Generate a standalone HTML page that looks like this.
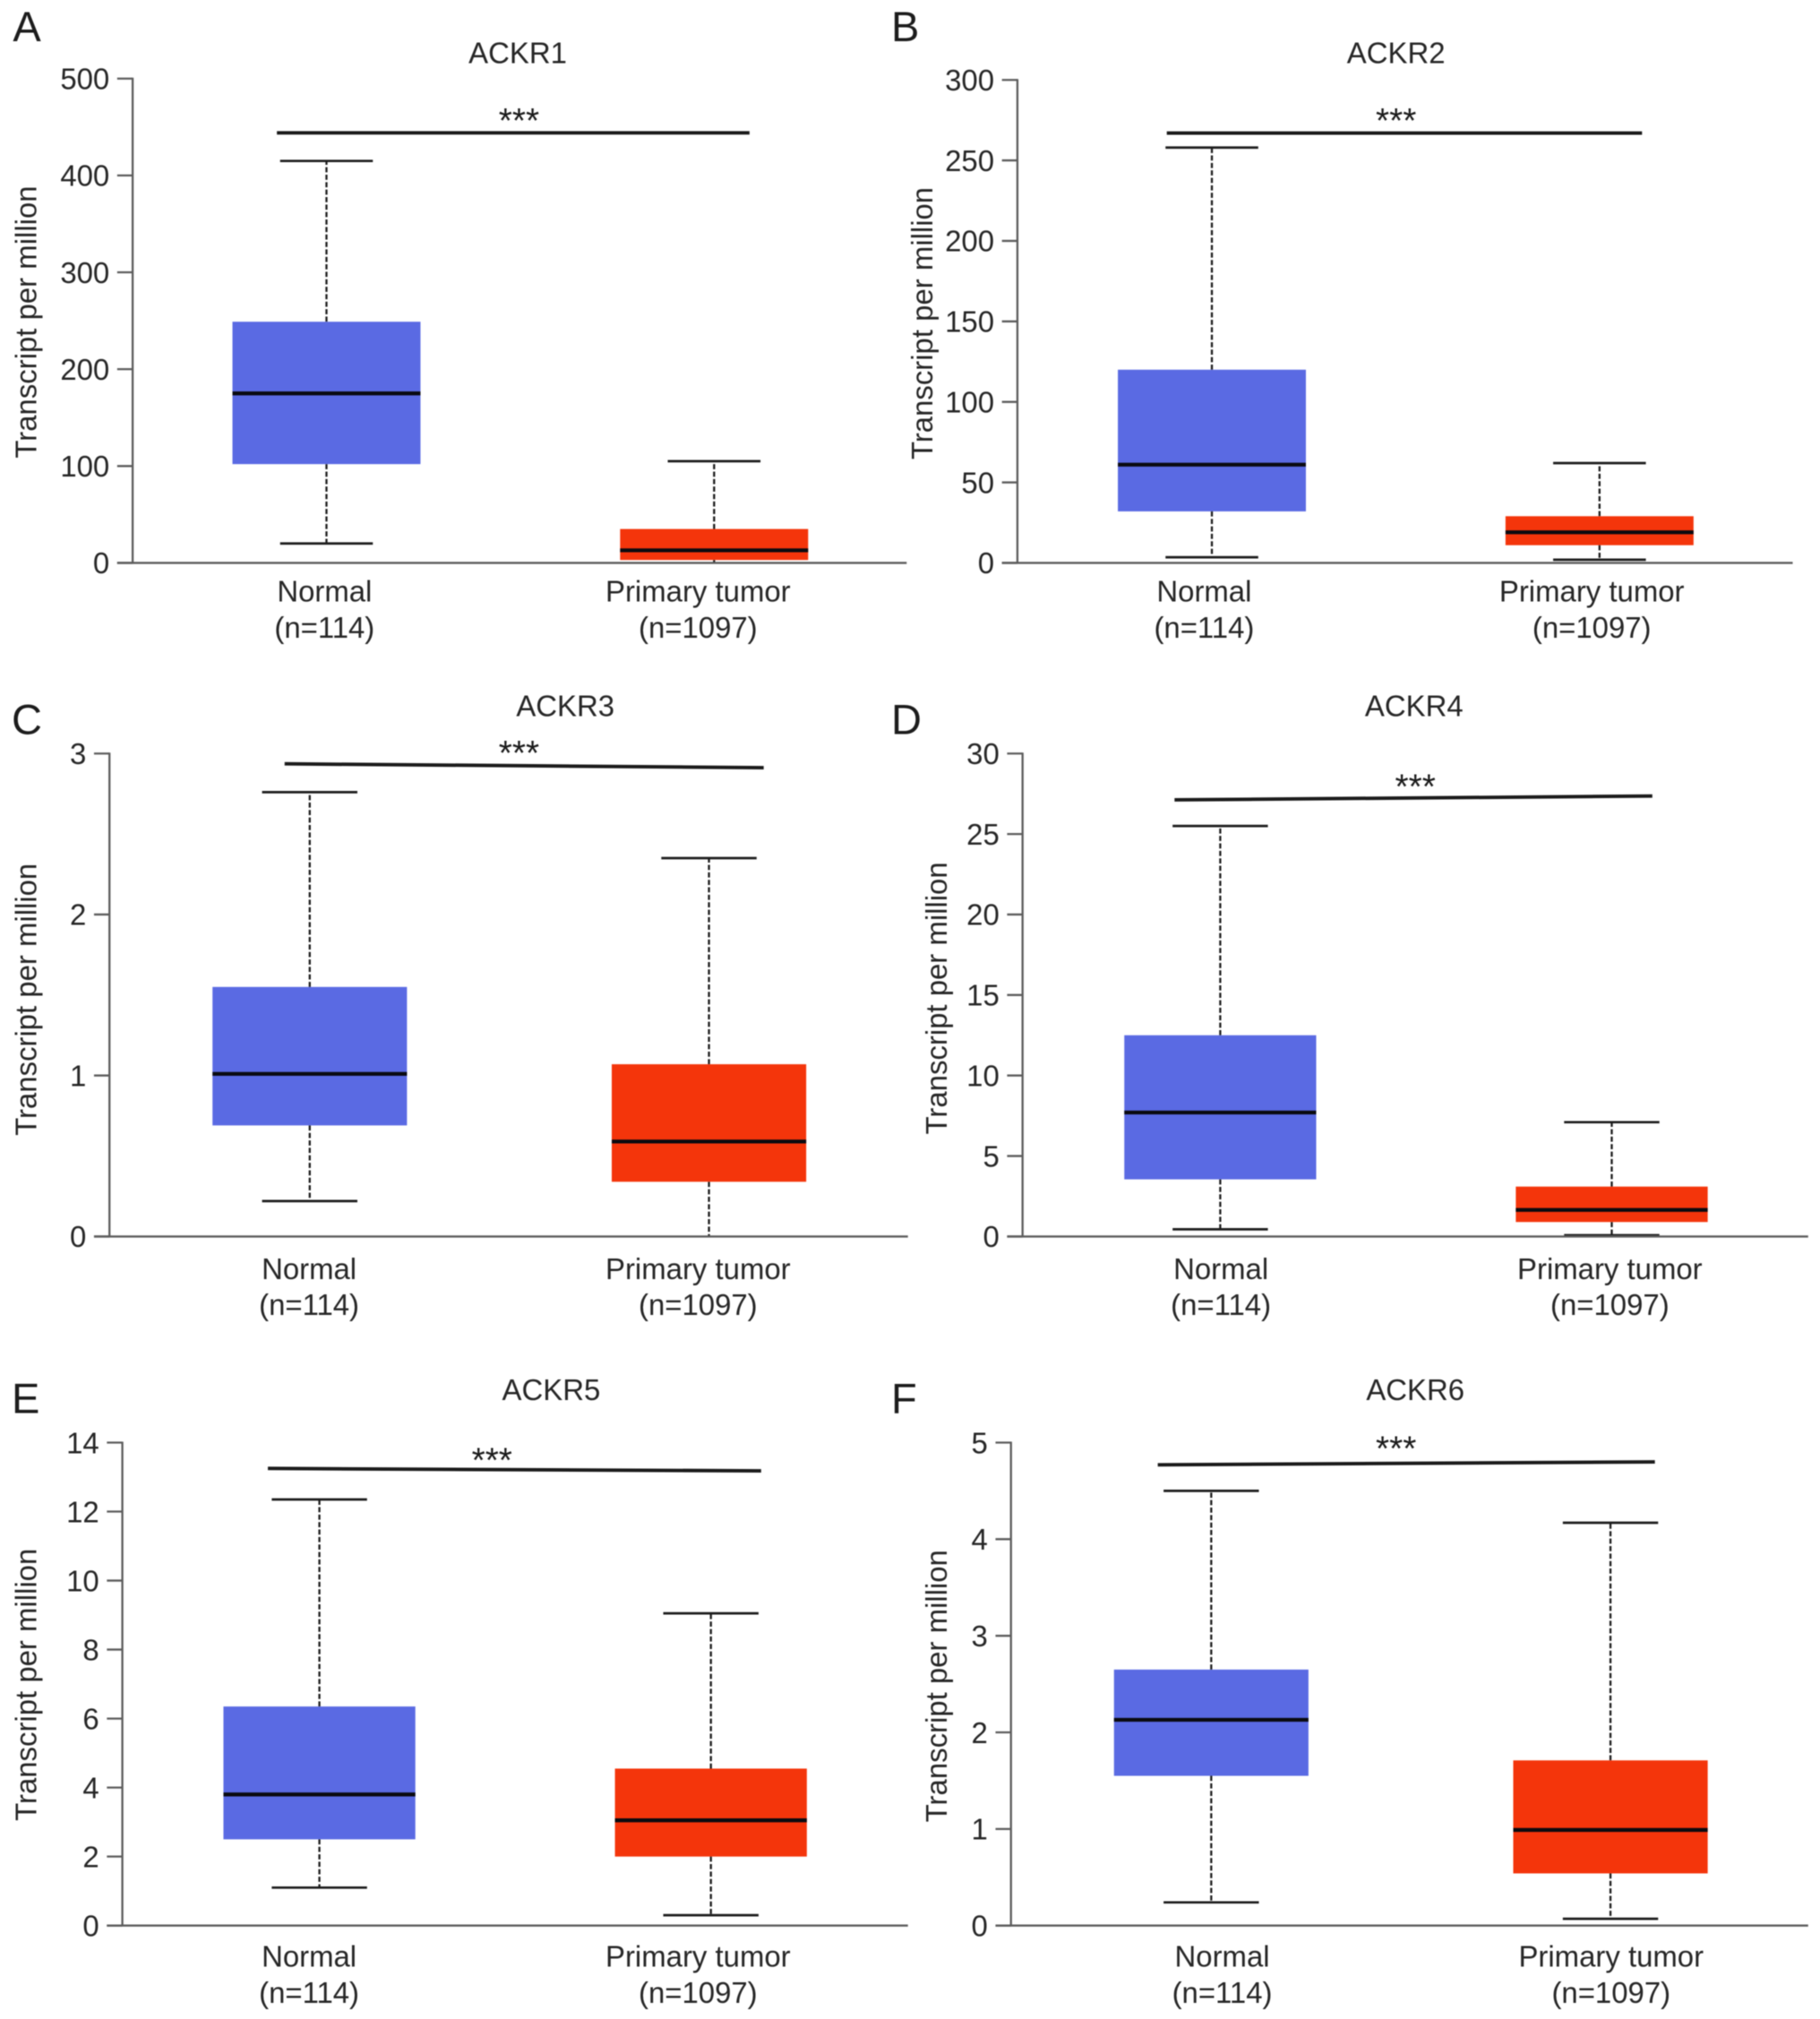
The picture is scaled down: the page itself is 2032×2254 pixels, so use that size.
<!DOCTYPE html>
<html lang="en">
<head>
<meta charset="utf-8">
<title>ACKR1-6 transcript expression box plots</title>
<style>
html,body{margin:0;padding:0;background:#fff;overflow:hidden;}
svg{display:block;filter:blur(0.6px);}
text{font-family:"Liberation Sans",Arial,sans-serif;fill:#262626;font-size:22.9px;}
.ctr{text-anchor:middle;}
.letter{font-size:32.7px;fill:#1c1c1c;}
</style>
</head>
<body>
<svg id="figure" xmlns="http://www.w3.org/2000/svg" width="2032" height="2254" viewBox="0 0 1413.2 1567.5">
<rect width="1414" height="1569" fill="#fff"/>

<g>
<text class="letter" x="10" y="32">A</text>
<text class="ctr" x="402" y="49">ACKR1</text>
<text class="ctr" transform="translate(28 250) rotate(-90)">Transcript per million</text>
<text class="ctr" x="252" y="467">Normal</text>
<text class="ctr" x="252" y="495">(n=114)</text>
<text class="ctr" x="542" y="467">Primary tumor</text>
<text class="ctr" x="542" y="495">(n=1097)</text>
</g>

<g>
<text class="letter" x="692" y="32">B</text>
<text class="ctr" x="1084" y="49">ACKR2</text>
<text class="ctr" transform="translate(724 251) rotate(-90)">Transcript per million</text>
<text class="ctr" x="935" y="467">Normal</text>
<text class="ctr" x="935" y="495">(n=114)</text>
<text class="ctr" x="1236" y="467">Primary tumor</text>
<text class="ctr" x="1236" y="495">(n=1097)</text>
</g>

<g>
<text class="letter" x="9" y="570">C</text>
<text class="ctr" x="439" y="556">ACKR3</text>
<text class="ctr" transform="translate(28 776) rotate(-90)">Transcript per million</text>
<text class="ctr" x="240" y="993">Normal</text>
<text class="ctr" x="240" y="1021">(n=114)</text>
<text class="ctr" x="542" y="993">Primary tumor</text>
<text class="ctr" x="542" y="1021">(n=1097)</text>
</g>

<g>
<text class="letter" x="692" y="570">D</text>
<text class="ctr" x="1098" y="556">ACKR4</text>
<text class="ctr" transform="translate(735 775) rotate(-90)">Transcript per million</text>
<text class="ctr" x="948" y="993">Normal</text>
<text class="ctr" x="948" y="1021">(n=114)</text>
<text class="ctr" x="1250" y="993">Primary tumor</text>
<text class="ctr" x="1250" y="1021">(n=1097)</text>
</g>

<g>
<text class="letter" x="9" y="1097">E</text>
<text class="ctr" x="428" y="1087">ACKR5</text>
<text class="ctr" transform="translate(28 1308) rotate(-90)">Transcript per million</text>
<text class="ctr" x="240" y="1527">Normal</text>
<text class="ctr" x="240" y="1555">(n=114)</text>
<text class="ctr" x="542" y="1527">Primary tumor</text>
<text class="ctr" x="542" y="1555">(n=1097)</text>
</g>

<g>
<text class="letter" x="692" y="1097">F</text>
<text class="ctr" x="1099" y="1087">ACKR6</text>
<text class="ctr" transform="translate(735 1309) rotate(-90)">Transcript per million</text>
<text class="ctr" x="949" y="1527">Normal</text>
<text class="ctr" x="949" y="1555">(n=114)</text>
<text class="ctr" x="1251" y="1527">Primary tumor</text>
<text class="ctr" x="1251" y="1555">(n=1097)</text>
</g>

<g id="marks"></g>
</svg>

<script>
/* Box statistics: [whisker low, Q1, median, Q3, whisker high] */
const ackr1Normal = [20, 102, 175, 249, 415];
const ackr1Tumor  = [0, 3, 13, 35, 105];
const ackr2Normal = [3.5, 32, 61, 120, 258];
const ackr2Tumor  = [2, 11, 19, 29, 62];
const ackr3Normal = [0.22, 0.69, 1.01, 1.55, 2.76];
const ackr3Tumor  = [0, 0.34, 0.59, 1.07, 2.35];
const ackr4Normal = [0.45, 3.55, 7.7, 12.5, 25.5];
const ackr4Tumor  = [0.08, 0.9, 1.65, 3.1, 7.1];
const ackr5Normal = [1.1, 2.5, 3.8, 6.35, 12.35];
const ackr5Tumor  = [0.3, 2.0, 3.05, 4.55, 9.05];
const ackr6Normal = [0.24, 1.55, 2.13, 2.65, 4.5];
const ackr6Tumor  = [0.07, 0.54, 0.99, 1.71, 4.17];

/* Y tick labels */
const ackr1Ticks = [0, 100, 200, 300, 400, 500];
const ackr2Ticks = [0, 50, 100, 150, 200, 250, 300];
const ackr3Ticks = [0, 1, 2, 3];
const ackr4Ticks = [0, 5, 10, 15, 20, 25, 30];
const ackr5Ticks = [0, 2, 4, 6, 8, 10, 12, 14];
const ackr6Ticks = [0, 1, 2, 3, 4, 5];

/* Significance bar heights in data units: [left end, right end] */
const ackr1Sig = [444, 444];
const ackr2Sig = [267, 267];
const ackr3Sig = [2.936, 2.912];
const ackr4Sig = [27.12, 27.36];
const ackr5Sig = [13.25, 13.18];
const ackr6Sig = [4.77, 4.80];

const NS = 'http://www.w3.org/2000/svg';
const marks = document.getElementById('marks');

function make(parent, tag, attrs) {
  const el = document.createElementNS(NS, tag);
  for (const k in attrs) el.setAttribute(k, attrs[k]);
  parent.appendChild(el);
  return el;
}

function drawBox(g, stats, cx, halfBox, halfCap, y, fill, key) {
  const low = stats[0], q1 = stats[1], med = stats[2], q3 = stats[3], high = stats[4];

  const whiskerUp = make(g, 'line', {x1: cx, x2: cx, y1: y(q3), y2: y(high), stroke: '#1c1c1c', 'stroke-width': 1.6, 'stroke-dasharray': '4 1.8'});
  
  

  const whiskerDown = make(g, 'line', {x1: cx, x2: cx, y1: y(q1), y2: y(low), stroke: '#1c1c1c', 'stroke-width': 1.6, 'stroke-dasharray': '4 1.8'});
  
  

  const capHigh = make(g, 'line', {x1: cx - halfCap, x2: cx + halfCap, y1: y(high), y2: y(high), stroke: '#1c1c1c', 'stroke-width': 1.9});
  
  

  /* A lower whisker sitting on the baseline is hidden by the axis in the source figure */
  if (low > 0) {
    const capLow = make(g, 'line', {x1: cx - halfCap, x2: cx + halfCap, y1: y(low), y2: y(low), stroke: '#1c1c1c', 'stroke-width': 1.9});
    
    
  }

  const box = make(g, 'rect', {x: cx - halfBox, width: halfBox * 2, y: y(q3), height: y(q1) - y(q3), fill: fill});
  
  

  const median = make(g, 'line', {x1: cx - halfBox, x2: cx + halfBox, y1: y(med), y2: y(med), stroke: '#0a0a10', 'stroke-width': 3});
  
  
}

function drawPanel(p) {
  const g = make(marks, 'g', {});
  
  

  const y = v => p.y0 + (p.yTop - p.y0) * v / p.ticks[p.ticks.length - 1];
  const xCat = i => p.cx0 + p.step * i;

  drawBox(g, p.normal, xCat(0), p.halfBox, p.halfCap, y, '#5a6ae3', p.key + '-normal');
  drawBox(g, p.tumor, xCat(1), p.halfBox, p.halfCap, y, '#f4350b', p.key + '-tumor');

  const yAxis = make(g, 'line', {x1: p.axisX, x2: p.axisX, y1: y(p.ticks[p.ticks.length - 1]) - 0.7, y2: p.y0, stroke: '#5c5c5c', 'stroke-width': 1.6});
  
  

  const xAxis = make(g, 'line', {x1: p.axisX - 12, x2: p.axisRight, y1: p.y0, y2: p.y0, stroke: '#5c5c5c', 'stroke-width': 1.6});
  
  

  p.ticks.forEach(t => {
    const tick = make(g, 'line', {x1: p.axisX - 12, x2: p.axisX, y1: y(t), y2: y(t), stroke: '#5c5c5c', 'stroke-width': 1.6});
    
    

    const label = make(g, 'text', {x: p.axisX - 18, y: y(t) + 8.2, 'text-anchor': 'end'});
    
    
    label.textContent = String(t);
  });

  const sig = make(g, 'line', {x1: p.sigX1, x2: p.sigX2, y1: y(p.sig[0]), y2: y(p.sig[1]), stroke: '#1a1a1a', 'stroke-width': 2.7});
  
  

  const stars = make(g, 'text', {x: p.starX, y: p.starY + 13, 'text-anchor': 'middle', style: 'font-size:27px;fill:#1a1a1a'});
  
  
  stars.textContent = '***';
}

drawPanel({key: 'ackr1', normal: ackr1Normal, tumor: ackr1Tumor, ticks: ackr1Ticks, sig: ackr1Sig,
  axisX: 103, axisRight: 704, y0: 437, yTop: 61, cx0: 253.5, step: 301, halfBox: 73, halfCap: 36,
  sigX1: 215, sigX2: 582, starX: 403, starY: 90});
drawPanel({key: 'ackr2', normal: ackr2Normal, tumor: ackr2Tumor, ticks: ackr2Ticks, sig: ackr2Sig,
  axisX: 790, axisRight: 1392, y0: 437, yTop: 62, cx0: 941, step: 301, halfBox: 73, halfCap: 36,
  sigX1: 906, sigX2: 1275, starX: 1084, starY: 90});
drawPanel({key: 'ackr3', normal: ackr3Normal, tumor: ackr3Tumor, ticks: ackr3Ticks, sig: ackr3Sig,
  axisX: 85, axisRight: 705, y0: 960, yTop: 585, cx0: 240.5, step: 310, halfBox: 75.5, halfCap: 37,
  sigX1: 221, sigX2: 593, starX: 403, starY: 581});
drawPanel({key: 'ackr4', normal: ackr4Normal, tumor: ackr4Tumor, ticks: ackr4Ticks, sig: ackr4Sig,
  axisX: 794, axisRight: 1404, y0: 960, yTop: 585, cx0: 947.5, step: 304, halfBox: 74.5, halfCap: 37,
  sigX1: 912, sigX2: 1283, starX: 1099, starY: 607});
drawPanel({key: 'ackr5', normal: ackr5Normal, tumor: ackr5Tumor, ticks: ackr5Ticks, sig: ackr5Sig,
  axisX: 95, axisRight: 705, y0: 1495, yTop: 1120, cx0: 248, step: 304, halfBox: 74.5, halfCap: 37,
  sigX1: 208, sigX2: 591, starX: 382, starY: 1130});
drawPanel({key: 'ackr6', normal: ackr6Normal, tumor: ackr6Tumor, ticks: ackr6Ticks, sig: ackr6Sig,
  axisX: 785, axisRight: 1404, y0: 1495, yTop: 1120, cx0: 940.5, step: 310, halfBox: 75.5, halfCap: 37,
  sigX1: 899, sigX2: 1285, starX: 1084, starY: 1121});
</script>
</body>
</html>
